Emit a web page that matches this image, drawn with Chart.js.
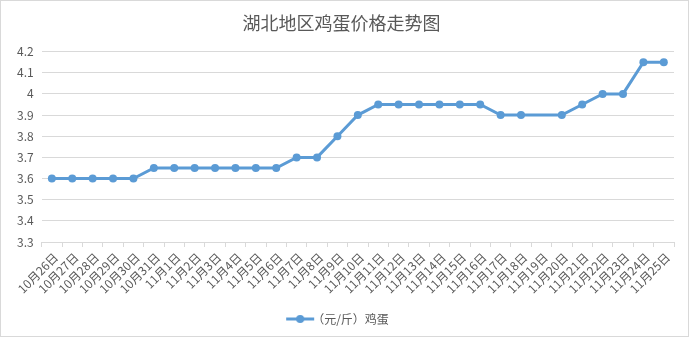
<!DOCTYPE html>
<html>
<head>
<meta charset="utf-8">
<script src="https://cdn.jsdelivr.net/npm/chart.js@4"></script>
<style>
  body { margin: 0; background: #fff; }
  #box { width: 689px; height: 337px; box-sizing: border-box; border: 1px solid #d9d9d9; }
</style>
</head>
<body>
<div id="box"><canvas id="myChart" width="687" height="335"></canvas></div>
<script>
var days = ['10月26日','10月27日','10月28日','10月29日','10月30日','10月31日',
    '11月1日','11月2日','11月3日','11月4日','11月5日','11月6日','11月7日','11月8日',
    '11月9日','11月10日','11月11日','11月12日','11月13日','11月14日','11月15日',
    '11月16日','11月17日','11月18日','11月19日','11月20日','11月21日','11月22日',
    '11月23日','11月24日','11月25日'];
var eggPrice = [3.6, 3.6, 3.6, 3.6, 3.6, 3.65,
    3.65, 3.65, 3.65, 3.65, 3.65, 3.65, 3.7, 3.7,
    3.8, 3.9, 3.95, 3.95, 3.95, 3.95, 3.95,
    3.95, 3.9, 3.9, null, 3.9, 3.95, 4.0,
    4.0, 4.15, 4.15];
var seriesName = '（元/斤）鸡蛋';
var chartTitle = '湖北地区鸡蛋价格走势图';

var blue = '#5b9bd5';
var grey = '#595959';
var font = '"Noto Sans CJK SC", "Noto Sans", sans-serif';

// legend sample: line with a dot in the middle
var sample = document.createElement('canvas');
sample.width = 30; sample.height = 10;
var sc = sample.getContext('2d');
sc.strokeStyle = blue; sc.lineWidth = 3;
sc.beginPath(); sc.moveTo(1, 5); sc.lineTo(29, 5); sc.stroke();
sc.fillStyle = blue;
sc.beginPath(); sc.arc(15, 5, 4, 0, Math.PI * 2); sc.fill();

var ctx = document.getElementById('myChart').getContext('2d');
var myChart = new Chart(ctx, {
    type: 'line',
    data: {
        labels: days,
        datasets: [{
            label: seriesName,
            data: eggPrice,
            borderColor: blue,
            backgroundColor: blue,
            borderWidth: 3,
            pointRadius: 4,
            pointHoverRadius: 4,
            pointBackgroundColor: blue,
            pointBorderWidth: 0,
            spanGaps: true,
            fill: false,
            tension: 0
        }]
    },
    options: {
        responsive: false,
        animation: false,
        layout: { padding: { left: 8, right: 14, top: 0, bottom: 1 } },
        scales: {
            x: {
                offset: true,
                grid: {
                    offset: true,
                    drawOnChartArea: false,
                    drawTicks: true,
                    tickLength: 5,
                    color: '#d9d9d9'
                },
                border: { display: true, color: '#d9d9d9' },
                ticks: {
                    autoSkip: false,
                    minRotation: 45,
                    maxRotation: 45,
                    padding: 3,
                    labelOffset: 4,
                    color: grey,
                    font: { family: font, size: 12 }
                }
            },
            y: {
                min: 3.3,
                max: 4.2,
                ticks: {
                    stepSize: 0.1,
                    padding: 8,
                    color: grey,
                    font: { family: font, size: 12 },
                    callback: function (v) { return String(+v.toFixed(1)); }
                },
                grid: { color: '#d9d9d9', drawTicks: false },
                border: { display: false }
            }
        },
        plugins: {
            title: {
                display: true,
                text: chartTitle,
                color: grey,
                font: { family: font, size: 18, weight: 'normal' },
                padding: { top: 11, bottom: 18 }
            },
            legend: {
                position: 'bottom',
                labels: {
                    usePointStyle: true,
                    pointStyle: sample,
                    color: grey,
                    font: { family: font, size: 12 },
                    padding: 14
                }
            },
            tooltip: { enabled: false }
        }
    }
});
</script>
</body>
</html>
